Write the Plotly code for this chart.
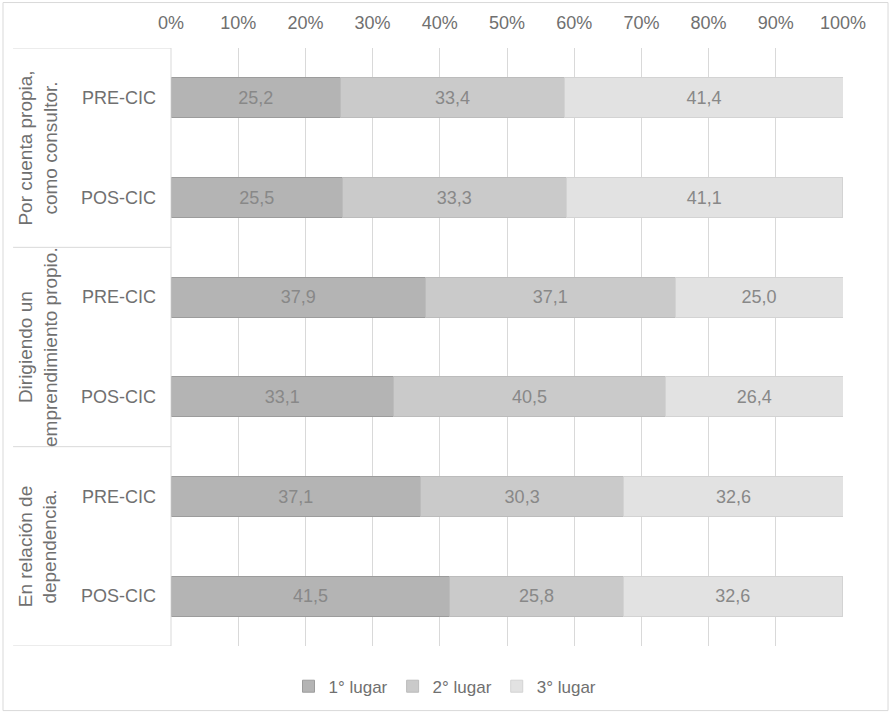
import plotly.graph_objects as go

groups = ["Por cuenta propia,<br>como consultor.",
          "Dirigiendo un<br>emprendimiento propio.",
          "En relación de<br>dependencia."]
subs = ["PRE-CIC", "POS-CIC"]
series_names = ["1° lugar", "2° lugar", "3° lugar"]
primero = [25.2, 25.5, 37.9, 33.1, 37.1, 41.5]
segundo = [33.4, 33.3, 37.1, 40.5, 30.3, 25.8]
tercero = [41.4, 41.1, 25.0, 26.4, 32.6, 32.6]
x_ticks = [0, 10, 20, 30, 40, 50, 60, 70, 80, 90, 100]

fills = ["#b4b4b4", "#cacaca", "#e2e2e2"]
borders = ["#9c9c9c", "#bcbcbc", "#d3d3d3"]

cats = [f"{g}|{s}" for g in range(len(groups)) for s in subs]
ticktext = [s for g in groups for s in subs]

FONT = "Liberation Sans, Arial, sans-serif"
GRAY = "#707070"

fig = go.Figure()
for name, vals, fc, bc in zip(series_names, [primero, segundo, tercero], fills, borders):
    fig.add_trace(go.Bar(
        y=cats, x=vals, name=name, orientation="h",
        marker=dict(color=fc, line=dict(color=bc, width=1)),
        texttemplate="%{x:.1f}", textposition="inside",
        insidetextanchor="middle", textangle=0,
        textfont=dict(family=FONT, size=18, color="#888888"),
        hoverinfo="x+name",
    ))

shapes = []
annotations = []
n = len(cats)
sep_positions = [-0.5] + [len(subs) * (i + 1) - 0.5 for i in range(len(groups))]
for yp in sep_positions:
    shapes.append(dict(type="line", xref="paper", yref="y", x0=-0.235, x1=0,
                       y0=yp, y1=yp, line=dict(color="#d9d9d9", width=1)))
shapes.append(dict(type="line", xref="paper", yref="y", x0=0, x1=0,
                   y0=-0.5, y1=n - 0.5, line=dict(color="#d9d9d9", width=1)))
shapes.append(dict(type="rect", xref="paper", yref="paper", x0=-0.25, x1=1.067,
                   y0=-0.108, y1=1.076, line=dict(color="#d9d9d9", width=1)))

for i, g in enumerate(groups):
    yc = len(subs) * i + (len(subs) - 1) / 2
    annotations.append(dict(text=g, xref="paper", yref="y", x=-0.198, y=yc,
                            textangle=-90, showarrow=False, xanchor="center",
                            yanchor="middle", align="center",
                            font=dict(family=FONT, size=19, color=GRAY)))

fig.update_layout(
    width=890, height=714,
    barmode="stack", bargap=0.6,
    separators=",.",
    paper_bgcolor="white", plot_bgcolor="white",
    margin=dict(l=171, r=47, t=48, b=68, autoexpand=False),
    font=dict(family=FONT, size=18, color=GRAY),
    xaxis=dict(side="top", range=[0, 100], tickvals=x_ticks,
               ticktext=[f"{v}%" for v in x_ticks],
               showgrid=True, gridcolor="#d9d9d9", gridwidth=1,
               zeroline=False, showline=False, ticks="",
               ticklabelstandoff=14,
               tickfont=dict(family=FONT, size=18, color=GRAY)),
    yaxis=dict(type="category", categoryorder="array", categoryarray=cats,
               range=[n - 0.5, -0.5], tickvals=cats, ticktext=ticktext,
               showgrid=False, zeroline=False, showline=False, ticks="",
               ticklabelstandoff=14,
               tickfont=dict(family=FONT, size=18, color=GRAY)),
    legend=dict(orientation="h", xref="container", x=0.5, xanchor="center",
                yref="paper", y=-0.068, yanchor="middle",
                font=dict(family=FONT, size=17, color=GRAY),
                itemclick=False, traceorder="normal", itemwidth=30),
    shapes=shapes, annotations=annotations,
)

fig.write_html("out.html", config={"displayModeBar": False},
               post_script="document.body.style.margin='0px';document.body.style.overflow='hidden';")
